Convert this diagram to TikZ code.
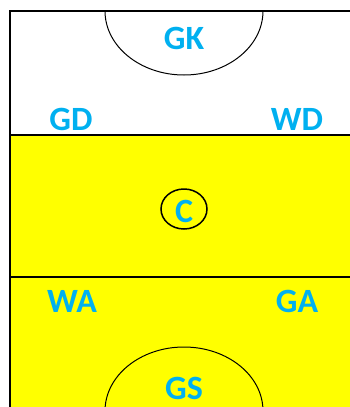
\documentclass[tikz,border=0pt]{standalone}
\usepackage{fontspec}
\setmainfont{Carlito}
\usepackage{tikz}
\usetikzlibrary{calc}
\definecolor{posblue}{RGB}{0,176,240}
\definecolor{courtyellow}{RGB}{255,255,0}

\begin{document}
\begin{tikzpicture}[x=1pt,y=-1pt,
    player/.style={text=posblue,font=\bfseries\fontsize{34}{34}\selectfont,inner sep=0pt},
    courtline/.style={line width=1.6pt},
    circleline/.style={line width=1pt}]
        % third of the court, y runs downwards
        \useasboundingbox (0,0) rectangle (350,407);
        \coordinate (TL) at (10,11);
        \coordinate (TR) at (350,11);
        \coordinate (ML) at (10,135);
        \coordinate (MR) at (350,135);
        \coordinate (NL) at (10,277);
        \coordinate (NR) at (350,277);
        \coordinate (BL) at (10,407);
        \coordinate (BR) at (350,407);
        % shooting circles
        \coordinate (Dtop) at (105,11);
        \coordinate (Dbot) at (105,411);
        \coordinate (Ctr) at (184,209);

        \fill[courtyellow] (ML) rectangle (BR);
        \draw[courtline] (TR) -- (TL) -- (BL);
        \draw[courtline] (ML) -- (MR);
        \draw[courtline] (NL) -- (NR);

        \draw[circleline] (Dtop) arc[start angle=180, end angle=0, x radius=79, y radius=64];
        \draw[circleline] (Dbot) arc[start angle=180, end angle=360, x radius=79, y radius=64];
        \draw[line width=1.5pt] (Ctr) ellipse[x radius=23, y radius=20];

        \node[player] (gk) at (184,38) {GK};
        \node[player] (gd) at (71,119) {GD};
        \node[player] (wd) at (297,119) {WD};
        \node[player] (c) at (184,211) {C};
        \node[player] (wa) at (72,301) {WA};
        \node[player] (ga) at (297,301) {GA};
        \node[player] (gs) at (184,388) {GS};

    \end{tikzpicture}
\end{document}
